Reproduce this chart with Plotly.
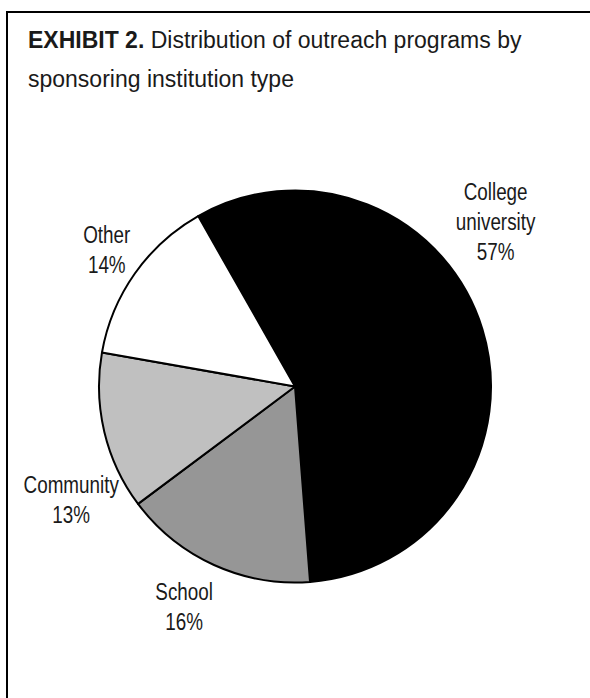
import plotly.graph_objects as go

# Sponsoring institution types and their share of outreach programs (%)
categories = ["College university", "School", "Community", "Other"]
label_lines = ["College<br>university", "School", "Community", "Other"]
shares = [57, 16, 13, 14]
slice_colors = ["#000000", "#969696", "#c0c0c0", "#ffffff"]

title_bold = "EXHIBIT 2."
title_line1 = "Distribution of outreach programs by"
title_line2 = "sponsoring institution type"

W, H = 590, 698
FONT = "Liberation Sans Narrow, Arial Narrow, Liberation Sans, Arial, sans-serif"
TITLE_FONT = "Liberation Sans, Arial, sans-serif"
TEXT_COLOR = "#1a1a1a"

# pie geometry in pixels
cx, cy, r = 295, 386.5, 196


def px(x):
    return x / W


def py(y):
    return 1 - y / H


fig = go.Figure(
    go.Pie(
        labels=categories,
        values=shares,
        sort=False,
        direction="clockwise",
        rotation=-29.6,
        marker=dict(colors=slice_colors, line=dict(color="#000000", width=2)),
        textinfo="none",
        hoverinfo="label+percent",
        showlegend=False,
        domain=dict(x=[px(cx - r), px(cx + r)], y=[py(cy + r), py(cy - r)]),
    )
)

# outside slice labels (centre of each text block, in pixels)
label_pos = [(496, 222), (184, 607), (71, 500), (107, 250)]
annotations = []
for text, val, (lx, ly) in zip(label_lines, shares, label_pos):
    annotations.append(
        dict(
            text=f"{text}<br>{val}%",
            x=px(lx), y=py(ly), xref="paper", yref="paper",
            xanchor="center", yanchor="middle", align="center",
            showarrow=False,
            font=dict(family=FONT, size=23, color=TEXT_COLOR),
        )
    )

# two-line exhibit heading
annotations.append(
    dict(
        text=f"<b>{title_bold}</b> {title_line1}",
        x=px(26), y=py(40), xref="paper", yref="paper",
        xanchor="left", yanchor="middle", align="left", showarrow=False,
        font=dict(family=TITLE_FONT, size=23, color=TEXT_COLOR),
    )
)
annotations.append(
    dict(
        text=title_line2,
        x=px(26), y=py(79), xref="paper", yref="paper",
        xanchor="left", yanchor="middle", align="left", showarrow=False,
        font=dict(family=TITLE_FONT, size=23, color=TEXT_COLOR),
    )
)

fig.update_layout(
    width=W,
    height=H,
    autosize=False,
    margin=dict(l=0, r=0, t=0, b=0),
    paper_bgcolor="#ffffff",
    plot_bgcolor="#ffffff",
    annotations=annotations,
    shapes=[
        dict(
            type="rect", xref="paper", yref="paper",
            x0=px(7), x1=px(W + 20), y0=py(H + 20), y1=py(12),
            line=dict(color="#000000", width=2), fillcolor="rgba(0,0,0,0)",
            layer="below",
        )
    ],
)

# narrow typeface for the slice labels: squeeze their text horizontally
# about its centre when no condensed face is installed
narrow_css = (
    ".annotation[data-index='0'] text.annotation-text,"
    ".annotation[data-index='1'] text.annotation-text,"
    ".annotation[data-index='2'] text.annotation-text,"
    ".annotation[data-index='3'] text.annotation-text"
    "{transform-box:fill-box;transform-origin:center;transform:scaleX(0.82);}"
)
post_script = (
    "var st=document.createElement('style');"
    f"st.textContent=\"{narrow_css}\";"
    "document.head.appendChild(st);"
)

fig.write_html("out.html", post_script=post_script)
